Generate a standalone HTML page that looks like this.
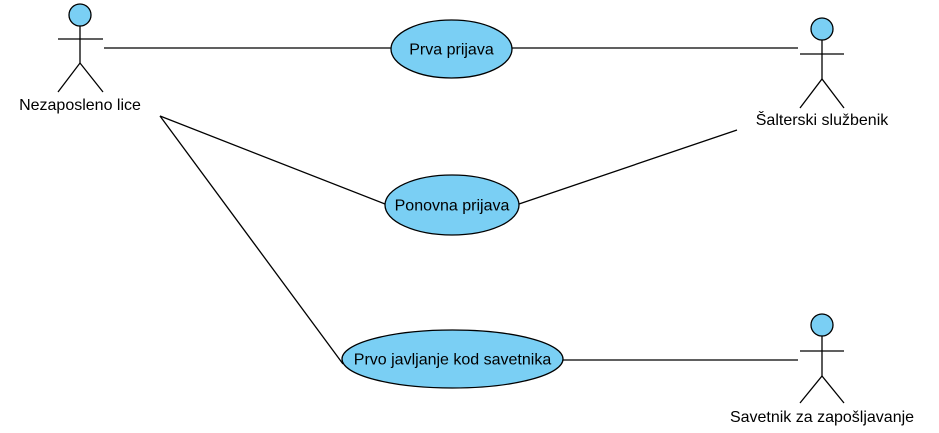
<!DOCTYPE html>
<html><head><meta charset="utf-8"><style>html,body{margin:0;padding:0;background:#fff}svg{display:block}</style></head>
<body>
<svg width="939" height="433" xmlns="http://www.w3.org/2000/svg" font-family="Liberation Sans, Arial, sans-serif" font-size="16">
<g stroke="#000" stroke-width="1.3" fill="none">
<line x1="104" y1="48" x2="391" y2="48"/>
<line x1="512" y1="48" x2="798" y2="48"/>
<line x1="160" y1="116" x2="385" y2="204"/>
<line x1="160" y1="116" x2="343" y2="364"/>
<line x1="519" y1="204" x2="737" y2="130"/>
<line x1="563" y1="360" x2="798" y2="360"/>
</g>
<g fill="#7acff4" stroke="#000" stroke-width="1.3">
<ellipse cx="451.5" cy="49" rx="60.5" ry="29"/>
<ellipse cx="452" cy="205" rx="67" ry="30"/>
<ellipse cx="452.5" cy="359" rx="110.5" ry="29"/>
</g>
<g text-anchor="middle" fill="#000">
<text x="451.5" y="54.5">Prva prijava</text>
<text x="452" y="210.5">Ponovna prijava</text>
<text x="452.5" y="364.5">Prvo javljanje kod savetnika</text>
</g>
<g stroke="#000" stroke-width="1.3" fill="none">
<circle cx="80" cy="15" r="11" fill="#7acff4"/>
<line x1="80" y1="26" x2="80" y2="63"/><line x1="58" y1="39" x2="103" y2="39"/>
<polyline points="58,92 80,63 103,92"/>
<circle cx="822" cy="29" r="11" fill="#7acff4"/>
<line x1="822" y1="40" x2="822" y2="79"/><line x1="800" y1="54" x2="844" y2="54"/>
<polyline points="800,108 822,79 844,108"/>
<circle cx="822" cy="325" r="11" fill="#7acff4"/>
<line x1="822" y1="336" x2="822" y2="376"/><line x1="800" y1="351" x2="844" y2="351"/>
<polyline points="800,403 822,376 844,403"/>
</g>
<g text-anchor="middle" fill="#000">
<text x="80" y="110">Nezaposleno lice</text>
<text x="822" y="125">Šalterski službenik</text>
<text x="822" y="422">Savetnik za zapošljavanje</text>
</g>
</svg>
</body></html>
